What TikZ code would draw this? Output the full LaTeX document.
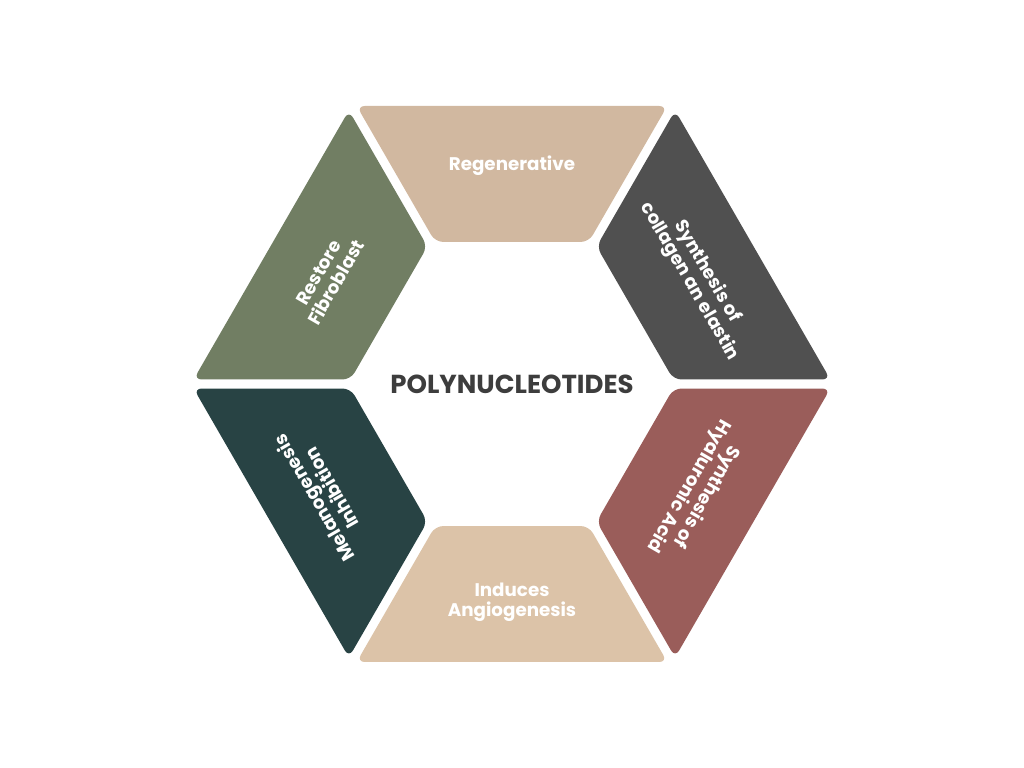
\documentclass[tikz,border=0pt]{standalone}
\usepackage{fontspec}
\setmainfont{Poppins}
\usetikzlibrary{calc}

\definecolor{regentan}{HTML}{D1B8A0}
\definecolor{angiotan}{HTML}{DCC3A8}
\definecolor{fibrosage}{HTML}{717E63}
\definecolor{collagengray}{HTML}{505050}
\definecolor{hyalurose}{HTML}{9A5D5A}
\definecolor{melanopine}{HTML}{284344}
\definecolor{centergray}{HTML}{3D3D3D}

\begin{document}
\begin{tikzpicture}[x=0.025cm,y=0.025cm,
    piece/.style={rounded corners=0.2cm},
    piecetext/.style={text=white,align=center,font=\fontsize{13}{14.5}\selectfont\bfseries}]
    \useasboundingbox (-512,-384) rectangle (512,384);

    % outer and inner hexagon
    \coordinate (O0) at (0:321);
    \coordinate (O1) at (60:321);
    \coordinate (O2) at (120:321);
    \coordinate (O3) at (180:321);
    \coordinate (O4) at (240:321);
    \coordinate (O5) at (300:321);
    \coordinate (I0) at (0:164);
    \coordinate (I1) at (60:164);
    \coordinate (I2) at (120:164);
    \coordinate (I3) at (180:164);
    \coordinate (I4) at (240:164);
    \coordinate (I5) at (300:164);

    % the six pieces
    \fill[piece,fill=collagengray] ($(O0)!0.13cm!(O1)$) -- ($(O1)!0.13cm!(O0)$) -- ($(I1)!0.13cm!(I0)$) -- ($(I0)!0.13cm!(I1)$) -- cycle;
    \fill[piece,fill=regentan]     ($(O1)!0.13cm!(O2)$) -- ($(O2)!0.13cm!(O1)$) -- ($(I2)!0.13cm!(I1)$) -- ($(I1)!0.13cm!(I2)$) -- cycle;
    \fill[piece,fill=fibrosage]    ($(O2)!0.13cm!(O3)$) -- ($(O3)!0.13cm!(O2)$) -- ($(I3)!0.13cm!(I2)$) -- ($(I2)!0.13cm!(I3)$) -- cycle;
    \fill[piece,fill=melanopine]   ($(O3)!0.13cm!(O4)$) -- ($(O4)!0.13cm!(O3)$) -- ($(I4)!0.13cm!(I3)$) -- ($(I3)!0.13cm!(I4)$) -- cycle;
    \fill[piece,fill=angiotan]     ($(O4)!0.13cm!(O5)$) -- ($(O5)!0.13cm!(O4)$) -- ($(I5)!0.13cm!(I4)$) -- ($(I4)!0.13cm!(I5)$) -- cycle;
    \fill[piece,fill=hyalurose]    ($(O5)!0.13cm!(O0)$) -- ($(O0)!0.13cm!(O5)$) -- ($(I0)!0.13cm!(I5)$) -- ($(I5)!0.13cm!(I0)$) -- cycle;

    % texts
    \node (center) at (0,0) [text=centergray,font=\fontsize{18.5}{22}\selectfont\bfseries] {POLYNUCLEOTIDES};

    \node (regen)    at (0,218)    [piecetext] {Regenerative};
    \node (collagen) at (30:215)   [piecetext,rotate=-60] {Synthesis of\\collagen an elastin};
    \node (fibro)    at (150:213)  [piecetext,rotate=60] {Restore\\Fibroblast};
    \node (melano)   at (210:219)  [piecetext,rotate=120] {Melanogenesis\\Inhibition};
    \node (angio)    at (0,-218)   [piecetext] {Induces\\Angiogenesis};
    \node (hyaluro)  at (330:214)  [piecetext,rotate=-120] {Synthesis of\\Hyaluronic Acid};

\end{tikzpicture}
\end{document}
